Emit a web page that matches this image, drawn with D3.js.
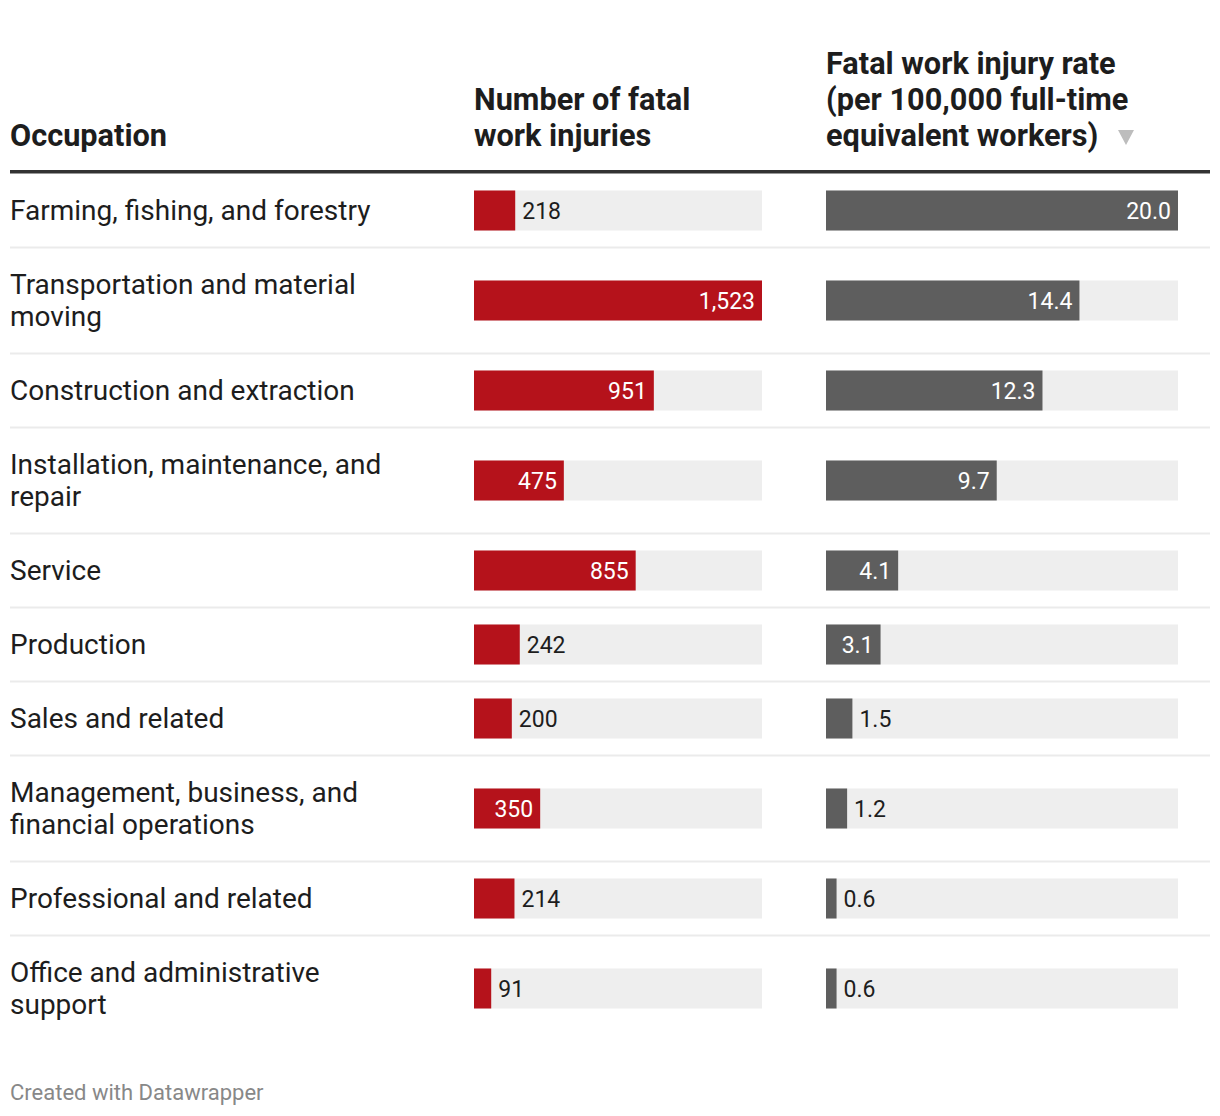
<!DOCTYPE html>
<html>
<head>
<meta charset="utf-8">
<script src="https://cdn.jsdelivr.net/npm/d3@7"></script>
<style>
  html, body { margin: 0; padding: 0; background: #fff; }
  svg { display: block; font-family: Roboto, "Noto Sans", sans-serif; }
</style>
</head>
<body>
<svg id="chart" width="1220" height="1116"></svg>
<script>
// ---- data ----
const occupations = [
  "Farming, fishing, and forestry",
  "Transportation and material moving",
  "Construction and extraction",
  "Installation, maintenance, and repair",
  "Service",
  "Production",
  "Sales and related",
  "Management, business, and financial operations",
  "Professional and related",
  "Office and administrative support"
];
const injuries = [218, 1523, 951, 475, 855, 242, 200, 350, 214, 91];
const rates = [20.0, 14.4, 12.3, 9.7, 4.1, 3.1, 1.5, 1.2, 0.6, 0.6];
const headers = [
  ["Occupation"],
  ["Number of fatal", "work injuries"],
  ["Fatal work injury rate", "(per 100,000 full-time", "equivalent workers)"]
];
const footer = "Created with Datawrapper";

// ---- layout ----
const svg = d3.select("#chart");
const left = 10, right = 1210;
const colX = [10, 474, 826];
const injW = 288, rateW = 352;
const bodyFont = 28, headFont = 30.7, valFont = 23, lineH = 32, headLineH = 36;
const wrapWidth = 390;
const barH = 40, rowPad = 21;
const headerLineY = 170, headerLineH = 3.5;
const tableTop = 173.5;

const xInj = d3.scaleLinear().domain([0, d3.max(injuries)]).range([0, injW]);
const xRate = d3.scaleLinear().domain([0, 20]).range([0, rateW]);

// header
const hdr = svg.append("g");
headers.forEach((lines, i) => {
  const n = lines.length;
  lines.forEach((t, j) => {
    hdr.append("text")
      .attr("x", colX[i])
      .attr("y", 146 - (n - 1 - j) * headLineH)
      .attr("font-size", headFont)
      .attr("font-weight", 700)
      .attr("fill", "#1d1d1d")
      .text(t);
  });
});
// sort arrow
hdr.append("path")
  .attr("d", "M1118,130 L1134,130 L1126,145 Z")
  .attr("fill", "#bdbdbd");

svg.append("rect")
  .attr("x", left).attr("y", headerLineY)
  .attr("width", right - left).attr("height", headerLineH)
  .attr("fill", "#333");

// text wrapping helper
const measure = svg.append("text").attr("font-size", bodyFont).attr("visibility", "hidden");
function textWidth(s, size) {
  measure.attr("font-size", size).text(s);
  return measure.node().getComputedTextLength();
}
function wrap(s) {
  const words = s.split(" ");
  const lines = [];
  let cur = "";
  words.forEach(w => {
    const test = cur ? cur + " " + w : w;
    if (textWidth(test, bodyFont) > wrapWidth && cur) {
      lines.push(cur);
      cur = w;
    } else cur = test;
  });
  if (cur) lines.push(cur);
  return lines;
}

const rows = [];
let y = tableTop;
occupations.forEach((o, i) => {
  const lines = wrap(o);
  const h = lines.length * lineH + 2 * rowPad;
  rows.push({ i, lines, y, h });
  y += h;
});

const fmtInj = d3.format(",");
const fmtRate = d3.format(".1f");

const g = svg.append("g");
rows.forEach((r, k) => {
  const cy = r.y + r.h / 2;
  // separator
  if (k < rows.length - 1) {
    g.append("rect")
      .attr("x", left).attr("y", r.y + r.h - 1)
      .attr("width", right - left).attr("height", 2)
      .attr("fill", "#ebebeb");
  }
  // label
  const n = r.lines.length;
  r.lines.forEach((t, j) => {
    g.append("text")
      .attr("x", colX[0])
      .attr("y", cy + (j - (n - 1) / 2) * lineH + bodyFont * 0.355)
      .attr("font-size", bodyFont)
      .attr("fill", "#1d1d1d")
      .text(t);
  });

  // bars
  const cols = [
    { x0: colX[1], w: injW, scale: xInj, v: injuries[r.i], fmt: fmtInj, color: "#b5121b" },
    { x0: colX[2], w: rateW, scale: xRate, v: rates[r.i], fmt: fmtRate, color: "#5e5e5e" }
  ];
  cols.forEach(c => {
    g.append("rect")
      .attr("x", c.x0).attr("y", cy - barH / 2)
      .attr("width", c.w).attr("height", barH)
      .attr("fill", "#eeeeee");
    const bw = c.scale(c.v);
    g.append("rect")
      .attr("x", c.x0).attr("y", cy - barH / 2)
      .attr("width", bw).attr("height", barH)
      .attr("fill", c.color);
    const label = c.fmt(c.v);
    const lw = textWidth(label, valFont);
    const inside = lw + 16 < bw;
    g.append("text")
      .attr("x", inside ? c.x0 + bw - 7 : c.x0 + bw + 7)
      .attr("y", cy + valFont * 0.355)
      .attr("text-anchor", inside ? "end" : "start")
      .attr("font-size", valFont)
      .attr("fill", inside ? "#ffffff" : "#1d1d1d")
      .text(label);
  });
});
measure.remove();

svg.append("text")
  .attr("x", 10).attr("y", 1100)
  .attr("font-size", 22)
  .attr("fill", "#888888")
  .text(footer);
</script>
</body>
</html>
